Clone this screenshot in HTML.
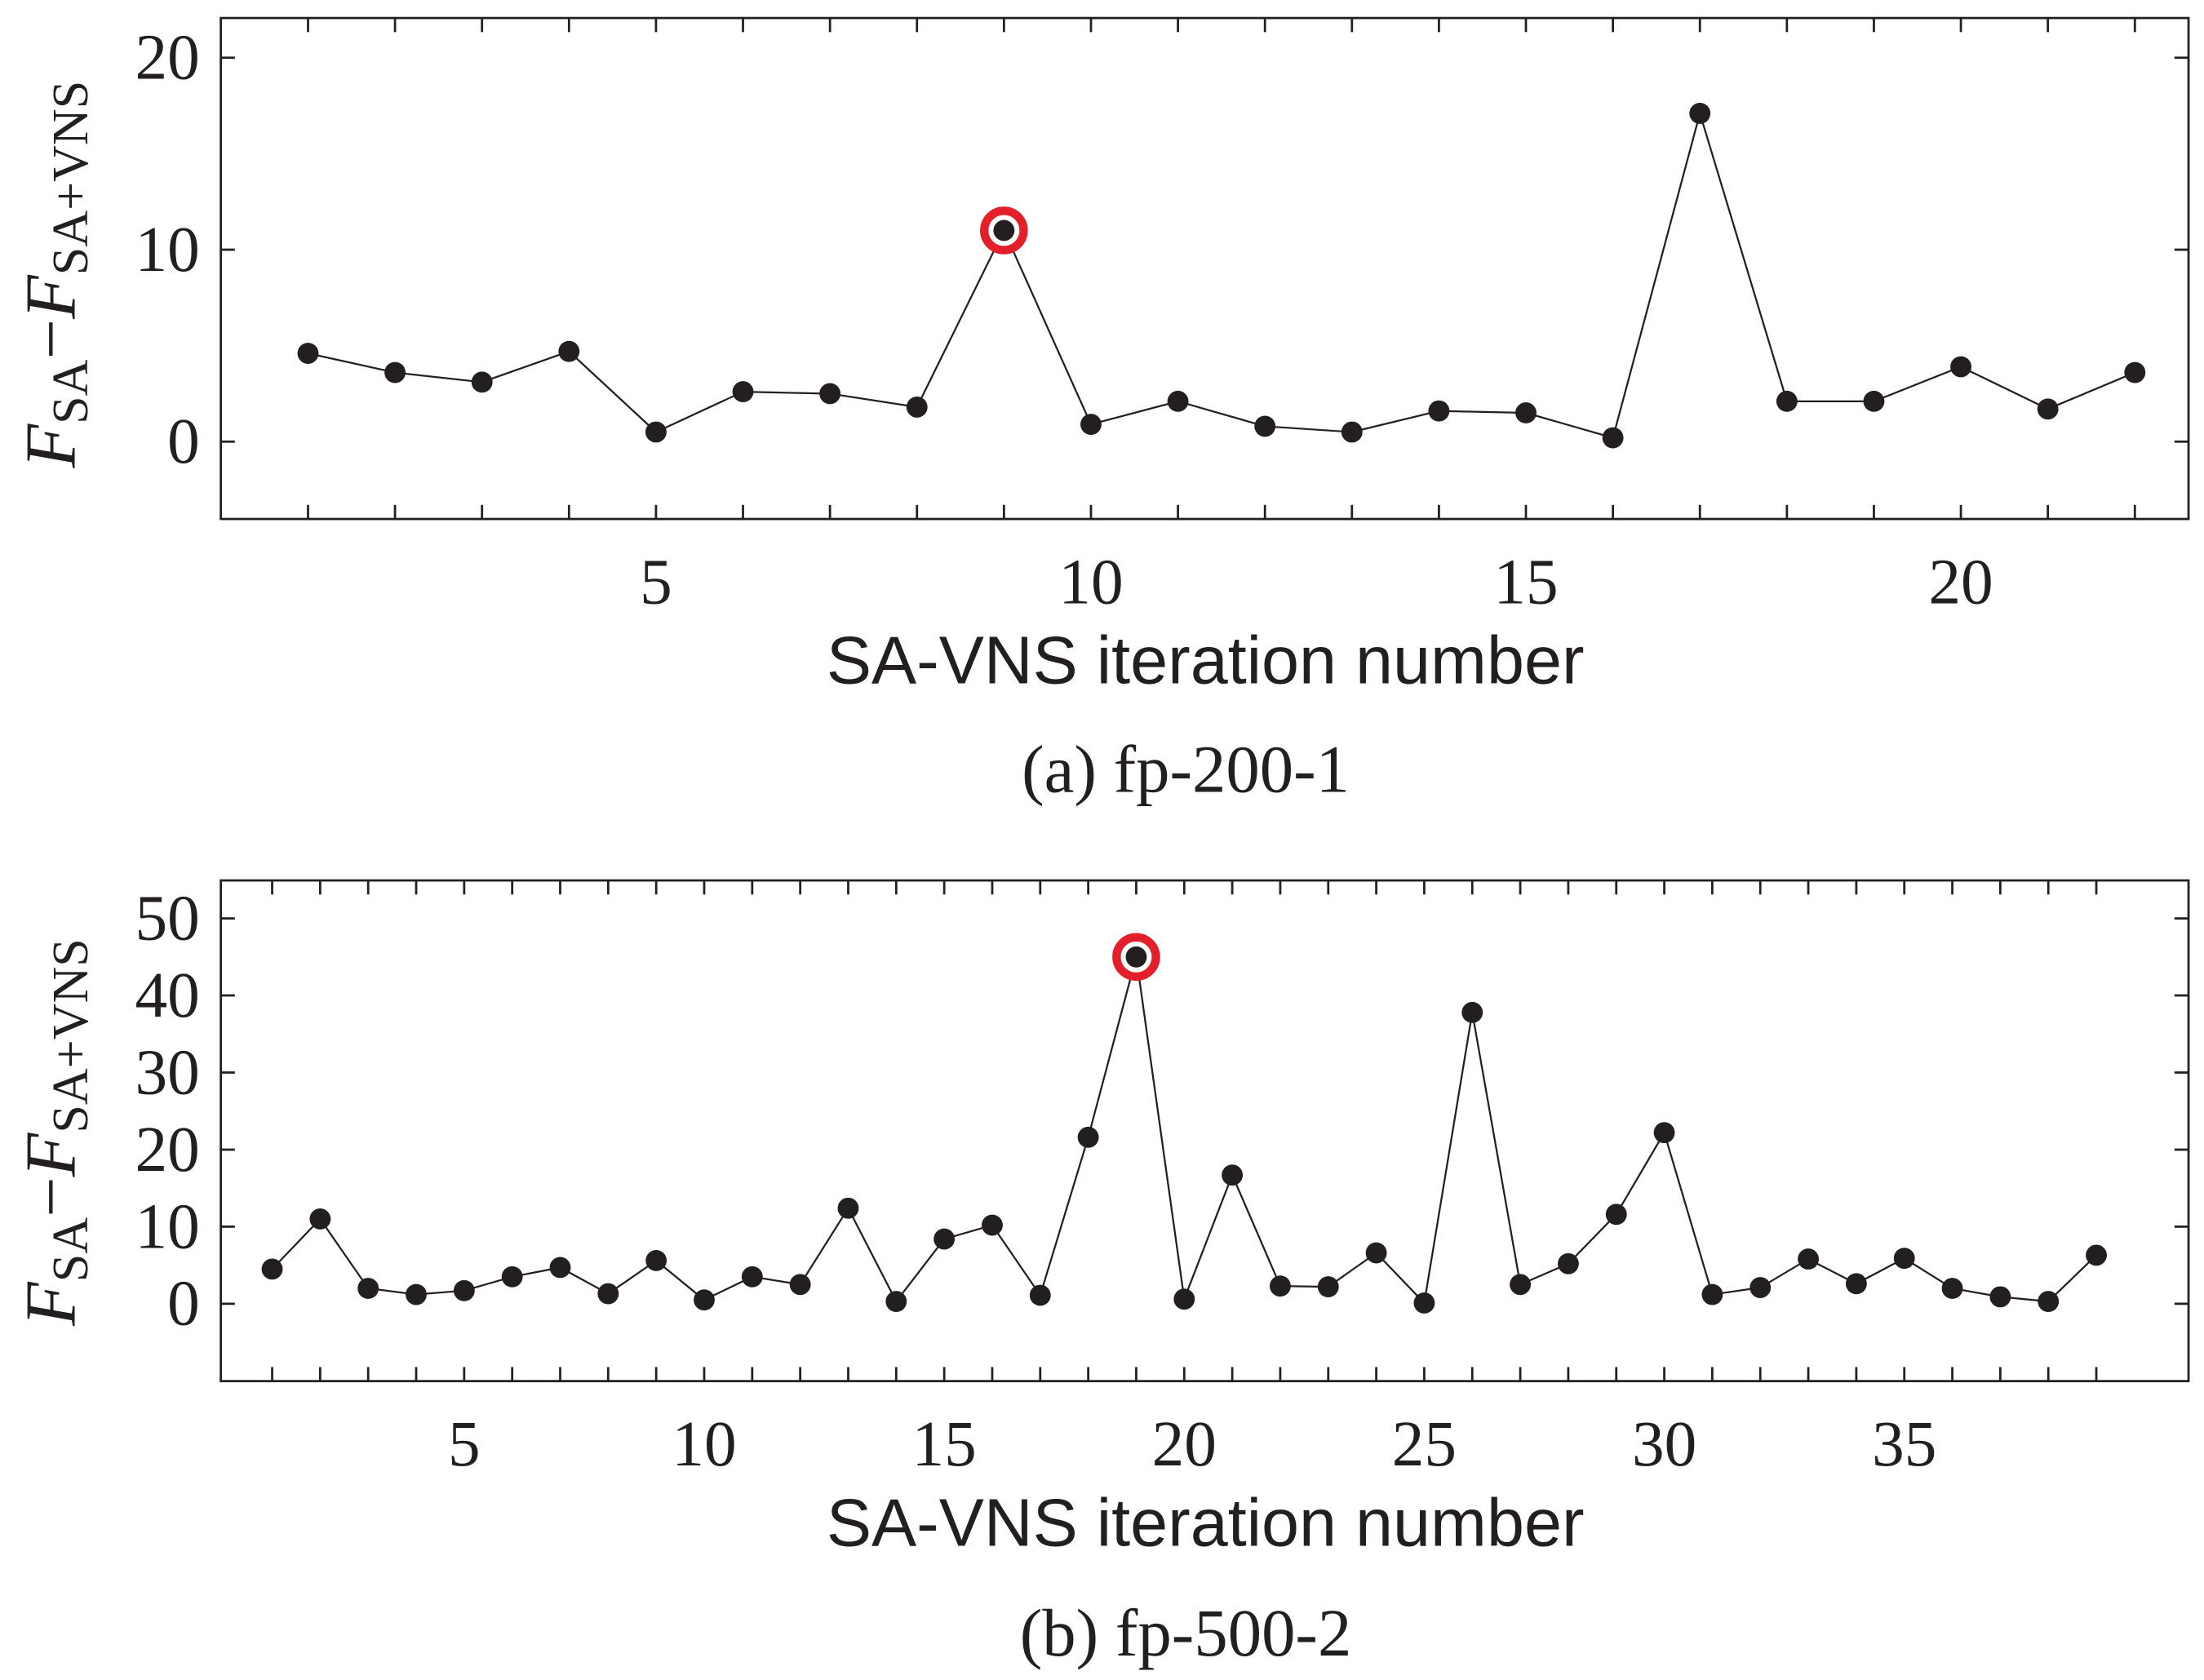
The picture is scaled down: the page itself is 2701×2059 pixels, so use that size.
<!DOCTYPE html>
<html><head><meta charset="utf-8"><style>html,body{margin:0;padding:0;background:#fff}svg{display:block}</style></head>
<body>
<svg id="chart" xmlns="http://www.w3.org/2000/svg" width="2701" height="2059" viewBox="0 0 1567 1194.5">
<g id="g"></g>
</svg>
<script>
const catsA = [1,2,3,4,5,6,7,8,9,10,11,12,13,14,15,16,17,18,19,20,21,22];
const valsA = [4.6,3.6,3.1,4.7,0.5,2.6,2.5,1.8,11.0,0.9,2.1,0.8,0.5,1.6,1.5,0.2,17.1,2.1,2.1,3.9,1.7,3.6];
const xTicksA = [5,10,15,20];
const yTicksA = [0,10,20];
const highlightA = 9;
const catsB = [1,2,3,4,5,6,7,8,9,10,11,12,13,14,15,16,17,18,19,20,21,22,23,24,25,26,27,28,29,30,31,32,33,34,35,36,37,38,39];
const valsB = [4.5,11,2,1.2,1.7,3.5,4.7,1.3,5.6,0.5,3.5,2.5,12.4,0.3,8.4,10.2,1.1,21.6,45,0.6,16.7,2.3,2.2,6.6,0.1,37.8,2.5,5.2,11.6,22.2,1.2,2.1,5.8,2.6,5.9,2,0.9,0.3,6.3];
const xTicksB = [5,10,15,20,25,30,35];
const yTicksB = [0,10,20,30,40,50];
const highlightB = 19;

const NS='http://www.w3.org/2000/svg';
const root=document.getElementById('g');
function mk(tag,attrs,parent){const e=document.createElementNS(NS,tag);for(const k in attrs)e.setAttribute(k,attrs[k]);(parent||root).appendChild(e);return e;}

function panel(id,cats,vals,xt,yt,hl,box,xmap,ymap,caption,capY,ylabY){
  const g=mk('g',{});
  
  
  const X=v=>xmap[0]+(v-xmap[1])*xmap[2];
  const Y=v=>ymap[0]-(v-ymap[1])*ymap[2];
  const r=mk('rect',{x:box[0],y:box[1],width:box[2]-box[0],height:box[3]-box[1],fill:'none',stroke:'#231f20','stroke-width':1.6},g);
  
  
  const tl=10;
  cats.forEach(c=>{
    const x=X(c);
    const t1=mk('line',{x1:x,x2:x,y1:box[1],y2:box[1]+tl,stroke:'#231f20','stroke-width':1.6},g);
    
    
    const t2=mk('line',{x1:x,x2:x,y1:box[3],y2:box[3]-tl,stroke:'#231f20','stroke-width':1.6},g);
    
    
  });
  xt.forEach(v=>{
    const t=mk('text',{x:X(v),y:box[3]+60,'text-anchor':'middle','font-family':'Liberation Serif, serif','font-size':46,fill:'#231f20'},g);
    t.textContent=v;
    
    
  });
  yt.forEach(v=>{
    const y=Y(v);
    const a=mk('line',{x1:box[0],x2:box[0]+tl,y1:y,y2:y,stroke:'#231f20','stroke-width':1.6},g);
    
    
    const b=mk('line',{x1:box[2],x2:box[2]-tl,y1:y,y2:y,stroke:'#231f20','stroke-width':1.6},g);
    
    
    const t=mk('text',{x:box[0]-15,y:y+15,'text-anchor':'end','font-family':'Liberation Serif, serif','font-size':46,fill:'#231f20'},g);
    t.textContent=v;
    
    
  });
  const pts=cats.map((c,i)=>X(c)+','+Y(vals[i])).join(' ');
  const pl=mk('polyline',{points:pts,fill:'none',stroke:'#231f20','stroke-width':1.3},g);
  
  
  cats.forEach((c,i)=>{
    if(c===hl){
      const h=mk('circle',{cx:X(c),cy:Y(vals[i]),r:14,fill:'#fff',stroke:'#e3202a','stroke-width':6},g);
      
      
    }
    const p=mk('circle',{cx:X(c),cy:Y(vals[i]),r:7.5,fill:'#231f20'},g);
    
    
  });
  const xl=mk('text',{x:857,y:box[3]+117,'text-anchor':'middle','font-family':'Liberation Sans, sans-serif','font-size':48,fill:'#231f20'},g);
  xl.textContent='SA-VNS iteration number';
  
  
  const cp=mk('text',{x:843,y:capY,'text-anchor':'middle','font-family':'Liberation Serif, serif','font-size':48,fill:'#231f20'},g);
  cp.textContent=caption;
  
  
  const yl=mk('text',{transform:'translate(53,'+ylabY+') rotate(-90)','text-anchor':'middle','font-family':'Liberation Serif, serif','font-size':51,fill:'#231f20'},g);
  yl.innerHTML='<tspan font-style="italic">F</tspan><tspan font-size="36" dy="9">SA</tspan><tspan dy="-9">−</tspan><tspan font-style="italic">F</tspan><tspan font-size="36" dy="9">SA+VNS</tspan>';
  
  
}
panel('panel-a',catsA,valsA,xTicksA,yTicksA,highlightA,[157,12.8,1556,369],[219,1,61.85],[314,0,13.65],'(a) fp-200-1',563,195);
panel('panel-b',catsB,valsB,xTicksB,yTicksB,highlightB,[157,626,1556,982],[193.5,1,34.13],[927,0,5.48],'(b) fp-500-2',1177,805);
</script>
</body></html>
